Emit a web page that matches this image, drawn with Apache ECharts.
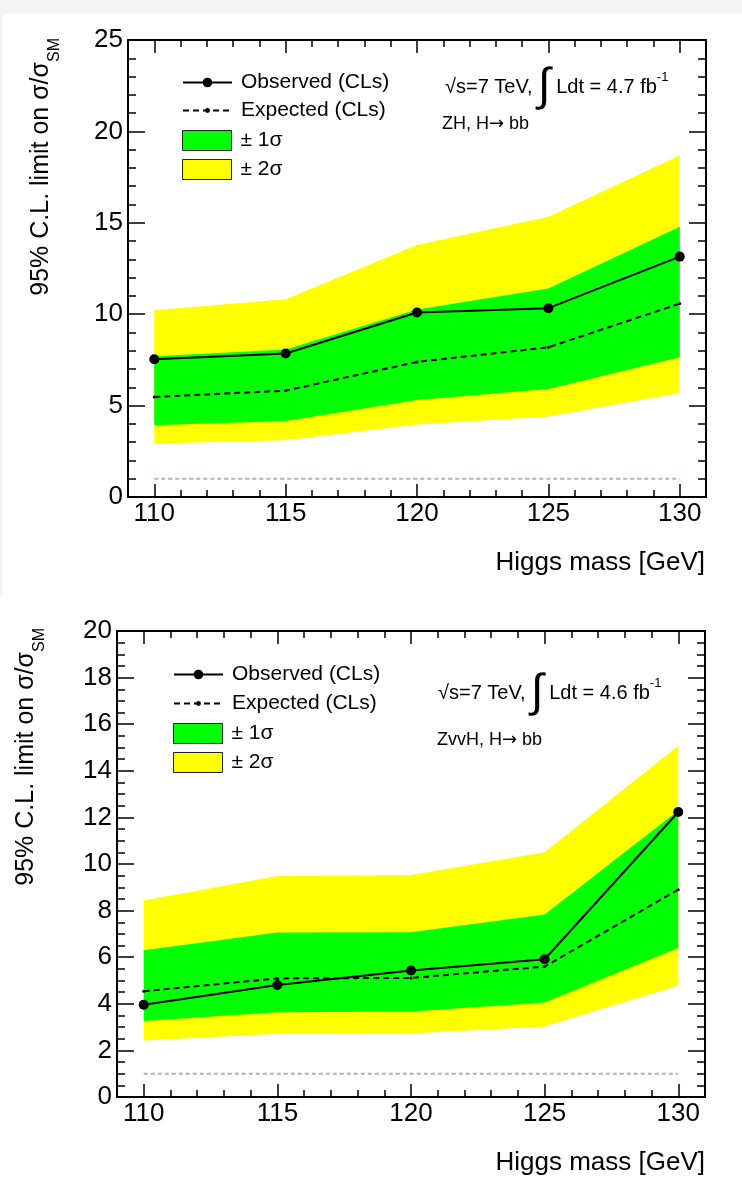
<!DOCTYPE html>
<html>
<head>
<meta charset="utf-8">
<script src="https://cdn.jsdelivr.net/npm/echarts@6/dist/echarts.min.js"></script>
<style>
  html, body { margin: 0; padding: 0; background: #fff; }
  #bg { position: absolute; left: 0; top: 0; width: 739px; height: 581px;
        border-top: 14px solid #f4f4f4; border-left: 3px solid #f4f4f4; }
  #main { position: absolute; left: 0; top: 0; width: 742px; height: 1188px; }
</style>
</head>
<body>
<div id="bg"></div>
<div id="main"></div>
<script>
// Higgs mass points [GeV]
const masses = [110, 115, 120, 125, 130];

// ZH, H -> bb (upper plot)
const zhObserved = [7.54, 7.85, 10.09, 10.33, 13.15];
const zhExpected = [5.47, 5.82, 7.39, 8.19, 10.58];
const zhPlus1 = [7.70, 8.07, 10.26, 11.40, 14.78];
const zhMinus1 = [3.92, 4.16, 5.31, 5.91, 7.65];
const zhPlus2 = [10.22, 10.82, 13.79, 15.33, 18.68];
const zhMinus2 = [2.92, 3.10, 3.96, 4.40, 5.69];

// ZvvH, H -> bb (lower plot)
const zvvObserved = [3.96, 4.81, 5.43, 5.91, 12.23];
const zvvExpected = [4.54, 5.09, 5.11, 5.60, 8.90];
const zvvPlus1 = [6.30, 7.06, 7.07, 7.83, 12.30];
const zvvMinus1 = [3.26, 3.64, 3.67, 4.06, 6.40];
const zvvPlus2 = [8.43, 9.48, 9.53, 10.50, 15.08];
const zvvMinus2 = [2.43, 2.71, 2.73, 3.03, 4.79];

// SM reference line (sigma/sigma_SM = 1)
const smMasses = [110, 130];
const smValues = [1, 1];

const FONT = "'Liberation Sans', Arial, Helvetica, sans-serif";
const smallDot = "path://M0,0M10,10M7.5,5A2.5,2.5,0,1,1,2.5,5A2.5,2.5,0,1,1,7.5,5Z";

function pairs(xs, ys) { return xs.map((x, i) => [x, ys[i]]); }

function axesFor(g, yMax, yInterval, yMinorSplit) {
  const line = { onZero: false, lineStyle: { color: '#000', width: 2 } };
  const tickStyle = { color: '#000', width: 1.5 };
  const xBase = {
    gridIndex: g, type: 'value', min: 109, max: 131,
    axisLine: line,
    axisTick: { inside: true, length: 13, lineStyle: tickStyle },
    minorTick: { show: true, splitNumber: 5, length: 7, lineStyle: tickStyle },
    splitLine: { show: false }
  };
  const yBase = {
    gridIndex: g, type: 'value', min: 0, max: yMax, interval: yInterval,
    axisLine: line,
    axisTick: { inside: true, length: 17, lineStyle: tickStyle },
    minorTick: { show: true, splitNumber: yMinorSplit, length: 8, lineStyle: tickStyle },
    splitLine: { show: false }
  };
  return {
    x: [
      Object.assign({}, xBase, {
        position: 'bottom',
        axisLabel: {
          fontSize: 26, fontFamily: FONT, color: '#000', margin: 4,
          showMinLabel: false, showMaxLabel: false,
          formatter: v => (v % 5 === 0 ? String(v) : '')
        }
      }),
      Object.assign({}, xBase, { position: 'top', axisLabel: { show: false } })
    ],
    y: [
      Object.assign({}, yBase, {
        position: 'left',
        axisLabel: { fontSize: 26, fontFamily: FONT, color: '#000', margin: 5 }
      }),
      Object.assign({}, yBase, { position: 'right', axisLabel: { show: false } })
    ]
  };
}

// filled band between lo and hi, as one polygon through the axis scales
function bandSeries(g, name, lo, hi, color) {
  const rows = masses.map((x, i) => [x, lo[i], hi[i]]);
  return {
    type: 'custom', name: name, xAxisIndex: 2 * g, yAxisIndex: 2 * g,
    silent: true, z: 1, clip: true,
    itemStyle: { color: color },
    encode: { x: 0, y: [1, 2] },
    data: rows,
    renderItem: function (params, api) {
      if (params.dataIndex !== 0) return null;
      const upper = rows.map(r => api.coord([r[0], r[2]]));
      const lower = rows.map(r => api.coord([r[0], r[1]])).reverse();
      return { type: 'polygon', shape: { points: upper.concat(lower) },
        style: { fill: color, stroke: null } };
    }
  };
}

function seriesFor(g, obs, exp, p1, m1, p2, m2) {
  const ax = { xAxisIndex: 2 * g, yAxisIndex: 2 * g, silent: true, z: 2 };
  return [
    bandSeries(g, '± 2σ', m2, p2, '#ffff00'),
    bandSeries(g, '± 1σ', m1, p1, '#00ff00'),
    Object.assign({ type: 'line', data: pairs(smMasses, smValues), symbol: 'none',
      lineStyle: { color: '#a3b5c6', width: 2, type: [4, 3] } }, ax),
    Object.assign({ name: 'Expected (CLs)', type: 'line', data: pairs(masses, exp),
      symbol: smallDot, symbolSize: 6, itemStyle: { color: '#000' },
      lineStyle: { color: '#000', width: 2, type: [6, 4] } }, ax, { z: 3 }),
    Object.assign({ name: 'Observed (CLs)', type: 'line', data: pairs(masses, obs),
      symbol: 'circle', symbolSize: 10, itemStyle: { color: '#000' },
      lineStyle: { color: '#000', width: 2 } }, ax, { z: 4 })
  ];
}

function legendsFor(left, lineTop, lineGap, boxTop, boxGap) {
  const text = { fontSize: 21, fontFamily: FONT, color: '#000', padding: [0, 0, 0, 4] };
  const box = { borderColor: '#222', borderWidth: 1 };
  return [
    { left: left, top: lineTop, orient: 'vertical', padding: 0, selectedMode: false,
      itemWidth: 49, itemHeight: 12, itemGap: lineGap, textStyle: text,
      data: ['Observed (CLs)', 'Expected (CLs)'] },
    { left: left, top: boxTop, orient: 'vertical', padding: 0, selectedMode: false,
      itemWidth: 49, itemHeight: 20, itemGap: boxGap, textStyle: text,
      data: [
        { name: '± 1σ', icon: 'rect', itemStyle: Object.assign({ color: '#00ff00' }, box) },
        { name: '± 2σ', icon: 'rect', itemStyle: Object.assign({ color: '#ffff00' }, box) }
      ] }
  ];
}

function labelText(x, y, lumi, channel, chX, chY) {
  return [
    { type: 'text', x: x, y: y, z: 10, silent: true,
      style: {
        text: '{a|√s=7 TeV, }{i|∫}{a| Ldt = ' + lumi + ' fb}{s|-1}',
        fontFamily: FONT, fill: '#000', align: 'left', verticalAlign: 'middle',
        rich: {
          a: { fontSize: 20, lineHeight: 32, fontFamily: FONT },
          i: { fontSize: 46, lineHeight: 20, fontFamily: FONT },
          s: { fontSize: 13, lineHeight: 12, verticalAlign: 'top', fontFamily: FONT }
        }
      } },
    { type: 'text', x: chX, y: chY, z: 10, silent: true,
      style: {
        text: '{a|' + channel + ', H}{r|→}{a| bb}',
        fontFamily: FONT, fill: '#000', align: 'left', verticalAlign: 'middle',
        rich: {
          a: { fontSize: 18, fontFamily: FONT },
          r: { fontSize: 18, fontFamily: "'DejaVu Sans', sans-serif" }
        }
      } }
  ];
}

function yTitle(x, y) {
  return { type: 'text', x: x, y: y, rotation: Math.PI / 2, z: 10, silent: true,
    style: {
      text: '{m|95% C.L. limit on σ/σ}{s|SM}',
      fontFamily: FONT, fill: '#000', align: 'right', verticalAlign: 'middle',
      rich: {
        m: { fontSize: 25, lineHeight: 44, fontFamily: FONT },
        s: { fontSize: 16, lineHeight: 16, verticalAlign: 'bottom', fontFamily: FONT }
      }
    } };
}

function xTitle(x, y) {
  return { type: 'text', x: x, y: y, z: 10, silent: true,
    style: { text: 'Higgs mass [GeV]', fontFamily: FONT, fontSize: 26, fill: '#000',
      align: 'right', verticalAlign: 'middle' } };
}

const upperAxes = axesFor(0, 25, 5, 5);
const lowerAxes = axesFor(1, 20, 2, 4);

const option = {
  animation: false,
  backgroundColor: 'transparent',
  grid: [
    { left: 128, top: 40, width: 578, height: 457 },
    { left: 117, top: 631, width: 588, height: 466 }
  ],
  xAxis: upperAxes.x.concat(lowerAxes.x),
  yAxis: upperAxes.y.concat(lowerAxes.y),
  legend: legendsFor(182, 72, 7, 130, 8).concat(legendsFor(173, 664, 8, 723, 8)),
  series: seriesFor(0, zhObserved, zhExpected, zhPlus1, zhMinus1, zhPlus2, zhMinus2)
    .concat(seriesFor(1, zvvObserved, zvvExpected, zvvPlus1, zvvMinus1, zvvPlus2, zvvMinus2)),
  graphic: [].concat(
    labelText(445, 87, '4.7', 'ZH', 442, 124),
    labelText(438, 693, '4.6', 'ZvvH', 437, 740),
    [yTitle(41, 38), yTitle(26, 628), xTitle(705, 563), xTitle(705, 1163)]
  )
};

const chart = echarts.init(document.getElementById('main'));
chart.setOption(option);
window.addEventListener('resize', function () { chart.resize(); });
</script>
</body>
</html>
